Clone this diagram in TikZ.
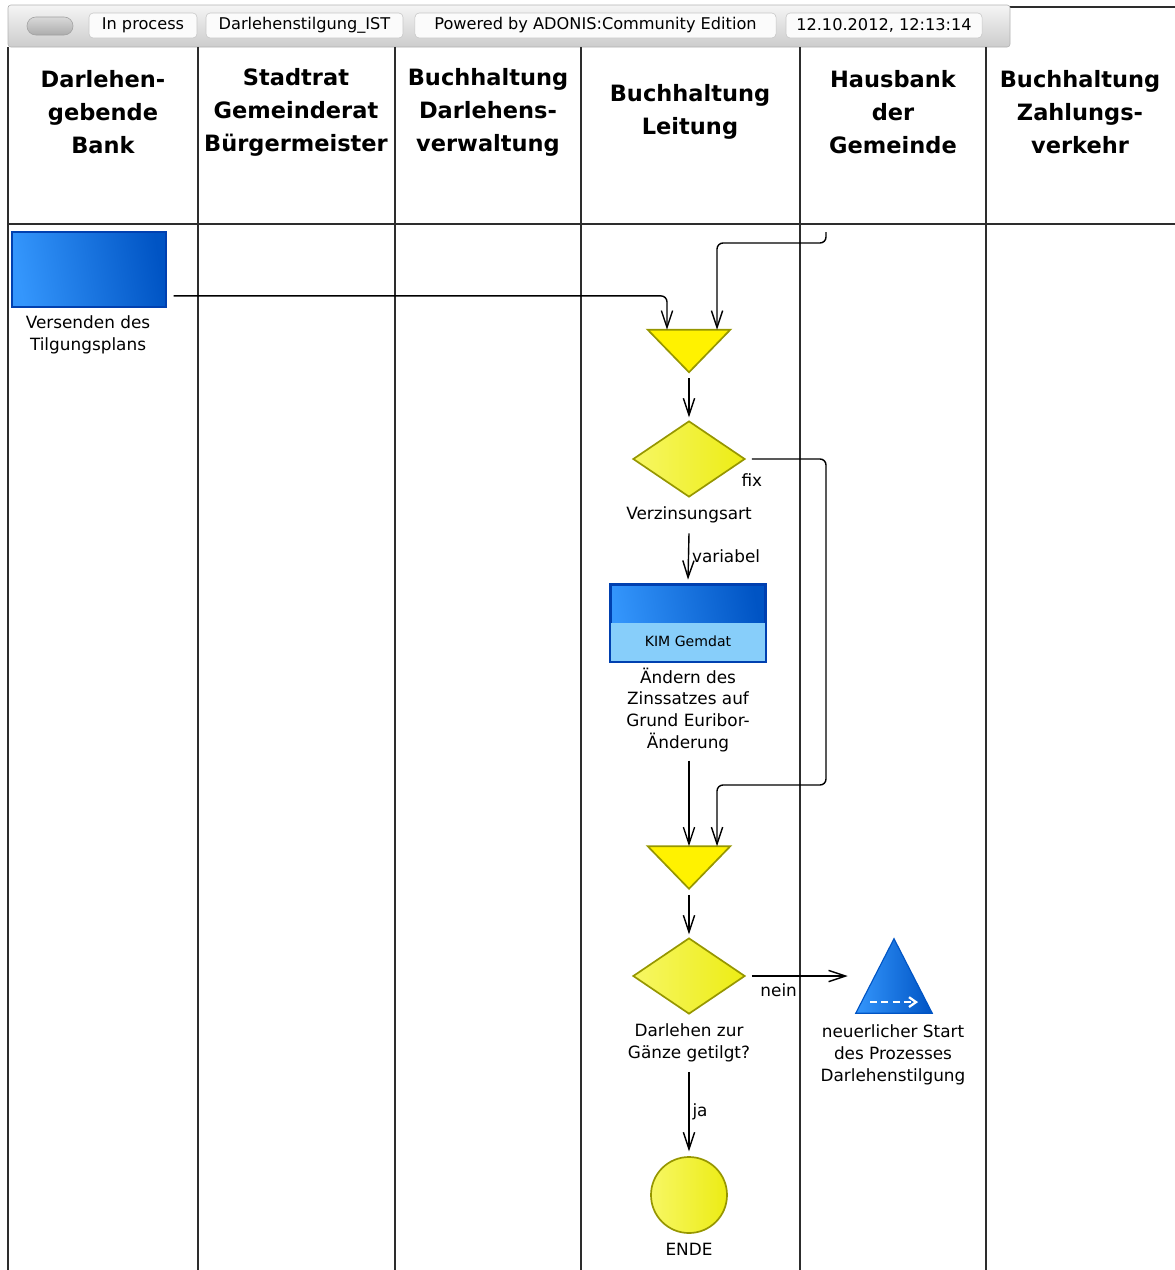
\documentclass[tikz,border=0pt]{standalone}
\usepackage{fontspec}
\setmainfont{DejaVu Sans}
\usetikzlibrary{shapes.geometric,arrows.meta,positioning}
\definecolor{actblue}{RGB}{52,150,252}
\definecolor{actdark}{RGB}{0,84,196}
\definecolor{actline}{RGB}{0,64,176}
\definecolor{actlight}{RGB}{135,206,250}
\definecolor{decfill}{RGB}{247,247,100}
\definecolor{decdark}{RGB}{236,236,20}
\definecolor{decline}{RGB}{150,150,0}
\definecolor{laneline}{RGB}{45,45,45}

\begin{document}
\begin{tikzpicture}[x=0.025cm,y=-0.025cm,
    lane/.style={draw=laneline,line width=1pt},
    lanehead/.style={font=\fontsize{16}{23.5}\selectfont\bfseries,align=center,inner sep=0pt},
    txt/.style={font=\fontsize{12}{15.6}\selectfont,align=center,inner sep=0pt},
    tag/.style={draw=gray!45,fill=gray!3,rounded corners=3pt,font=\fontsize{11.5}{13}\selectfont,minimum height=0.625cm,inner xsep=2pt,inner ysep=0pt},
    activity/.style={draw=actline,line width=0.8pt,left color=actblue,right color=actdark,shading angle=100,minimum width=3.85cm,minimum height=1.875cm,inner sep=0pt},
    decision/.style={diamond,draw=decline,line width=1.2pt,left color=decfill,right color=decdark,minimum width=2.8cm,minimum height=1.9cm,inner sep=0pt},
    gatebox/.style={minimum width=2.05cm,minimum height=1.05cm,inner sep=0pt},
    mergetri/.style={draw=decline,fill=yellow,line width=1.2pt},
    proctri/.style={draw=actdark,line width=0.8pt,left color=actblue,right color=actdark},
    flow/.style={draw,line width=1pt,rounded corners=0.15cm,-{Straight Barb[length=12pt,width=8pt]}},
    edgelabel/.style={font=\fontsize{12}{14}\selectfont,inner sep=2pt}]
\useasboundingbox (0,0) rectangle (1175,1270);
\draw[lane] (8,7) -- (1175,7);
\draw[top color=gray!8,bottom color=gray!40,draw=gray!60,rounded corners=2pt] (8,5) rectangle (1010,47);
\node[draw=gray!75,top color=gray!30,bottom color=gray!65,rounded corners=0.22cm,minimum width=1.15cm,minimum height=0.45cm] (knob) at (50,26) {};
\node[tag,minimum width=2.7cm] (t1) at (143,25.5) {In process};
\node[tag,minimum width=4.925cm] (t2) at (304.5,25.5) {Darlehenstilgung\_IST};
\node[tag,minimum width=9.025cm] (t3) at (595.5,25.5) {Powered by ADONIS:Community Edition};
\node[tag,minimum width=4.9cm] (t4) at (884,25.5) {12.10.2012, 12:13:14};
\foreach \x in {8,198,395,581,800,986}
  \draw[lane] (\x,47) -- (\x,1270);
\draw[lane] (8,224) -- (1175,224);
\node[lanehead] (h1) at (103,112) {Darlehen-\\gebende\\Bank};
\node[lanehead] (h2) at (296,112) {Stadtrat\\Gemeinderat\\Bürgermeister};
\node[lanehead] (h3) at (488,112) {Buchhaltung\\Darlehens-\\verwaltung};
\node[lanehead] (h4) at (690,112) {Buchhaltung\\Leitung};
\node[lanehead] (h5) at (893,112) {Hausbank\\der\\Gemeinde};
\node[lanehead] (h6) at (1080,112) {Buchhaltung\\Zahlungs-\\verkehr};

\node[activity] (tilg) at (89,269.5) {};
\node[txt] (tilgtxt) at (88,335) {Versenden des\\Tilgungsplans};
\node[gatebox] (merge1) at (689,351) {};
\draw[mergetri] (merge1.north west) -- (merge1.north east) -- (merge1.south) -- cycle;
\node[decision] (verz) at (689,459) {};
\node[txt] (verztxt) at (689,515) {Verzinsungsart};
\node[activity,minimum height=1.9cm] (kim) at (688,623) {};
\fill[actlight] (kim.west) rectangle (kim.south east);
\draw[actline,line width=1.5pt] (kim.north west) rectangle (kim.south east);
\node[font=\fontsize{10}{12}\selectfont] (kimtool) at (688,641) {KIM Gemdat};
\node[txt] (kimtxt) at (688,710) {Ändern des\\Zinssatzes auf\\Grund Euribor-\\Änderung};
\node[gatebox] (merge2) at (689,867.5) {};
\draw[mergetri] (merge2.north west) -- (merge2.north east) -- (merge2.south) -- cycle;
\node[decision] (dec2) at (689,976) {};
\node[txt] (dec2txt) at (689,1042.5) {Darlehen zur\\Gänze getilgt?};
\node[gatebox,minimum width=1.9cm,minimum height=1.85cm] (prozess) at (894,976) {};
\draw[proctri] (prozess.south west) -- (prozess.north) -- (prozess.south east) -- cycle;
\draw[white,line width=1.6pt,dash pattern=on 5pt off 3pt,-{Straight Barb[length=5pt,width=7pt]}] ([shift={(-0.6cm,0.28cm)}]prozess.south) -- ([shift={(0.6cm,0.28cm)}]prozess.south);
\node[txt] (prozesstxt) at (893,1055) {neuerlicher Start\\des Prozesses\\Darlehenstilgung};
\node[circle,draw=decline,line width=1.2pt,left color=decfill,right color=decdark,minimum size=1.9cm,inner sep=0pt] (ende) at (689,1195) {};
\node[txt] (endetxt) at (689,1249) {ENDE};

\coordinate (hbin) at (826,232);
\coordinate (fixturn) at (826,785);
\draw[flow] ([shift={(0.175cm,-0.66cm)}]tilg.east) -| ([xshift=-0.55cm]merge1.north);
\draw[flow] (hbin) -- ++(0,11) -| ([xshift=0.7cm]merge1.north);
\draw[flow] ([yshift=-0.15cm]merge1.south) -- ([yshift=0.07cm]verz.north);
\draw[flow] ([xshift=0.15cm]verz.east) node[edgelabel,below=0.28cm] {fix} -| (fixturn) -| ([xshift=0.7cm]merge2.north);
\draw[flow] ([yshift=-0.25cm]verztxt.south) -- node[edgelabel,right] {variabel} ([yshift=0.12cm]kim.north);
\draw[flow] ([yshift=-0.2cm]kimtxt.south -| merge2.north) -- (merge2.north);
\draw[flow] ([yshift=-0.15cm]merge2.south) -- ([yshift=0.07cm]dec2.north);
\draw[flow] ([xshift=0.15cm]dec2.east) -- node[edgelabel,pos=0.28,below=3pt] {nein} ([xshift=-0.2cm]prozess.west);
\draw[flow] ([yshift=-0.25cm]dec2txt.south) -- node[edgelabel,right] {ja} ([yshift=0.12cm]ende.north);
\end{tikzpicture}
\end{document}
